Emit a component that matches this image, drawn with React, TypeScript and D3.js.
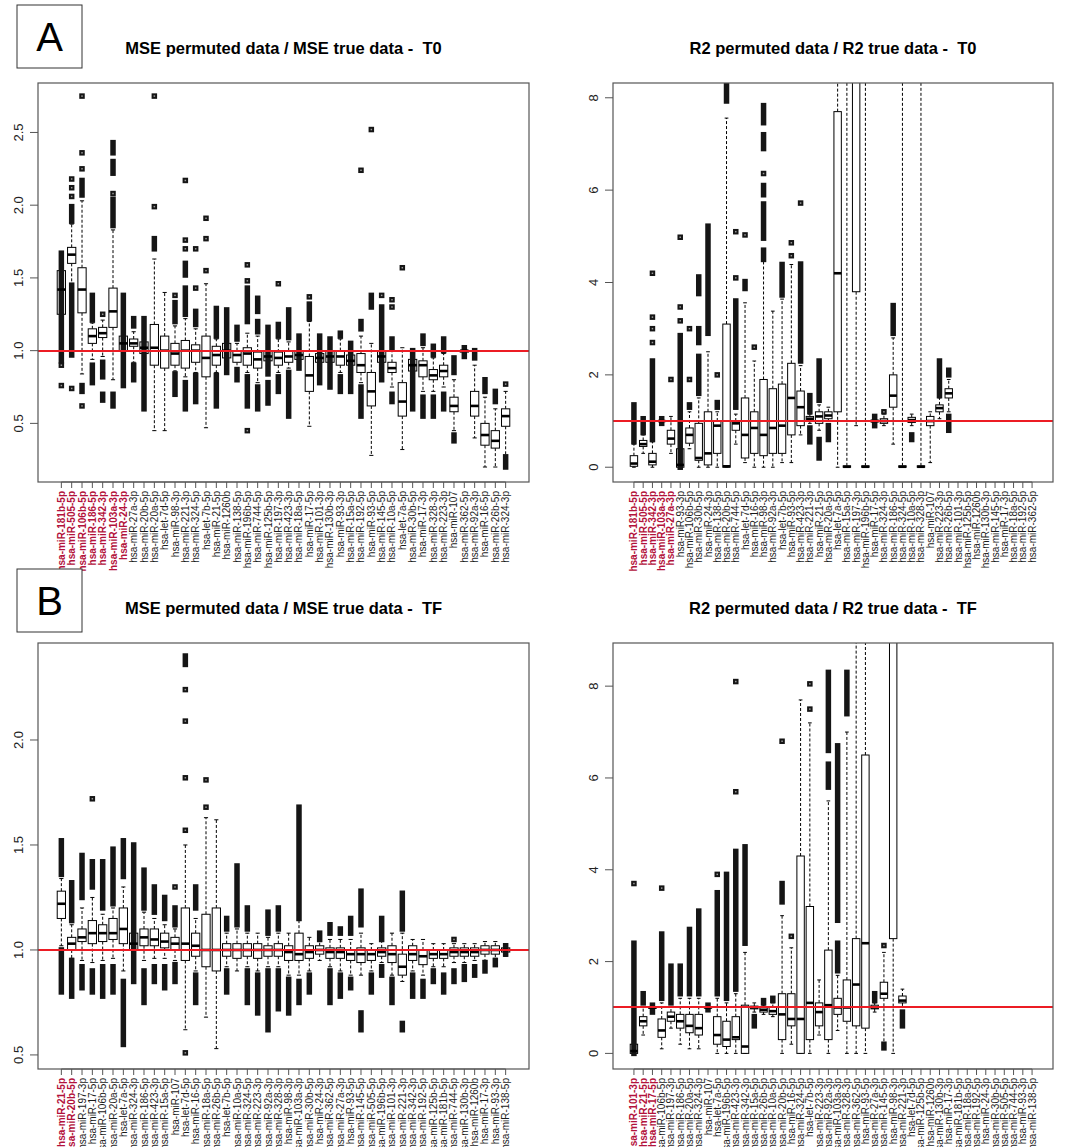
import React, { useEffect, useRef } from "react";
import * as d3 from "d3";

// ---- panel A, left: MSE permuted / MSE true, T0 ----
const aLeftLabels = ["hsa-miR-181b-5p","hsa-miR-505-5p","hsa-miR-106b-5p","hsa-miR-186-5p","hsa-miR-342-3p","hsa-miR-103a-3p","hsa-miR-24-3p","hsa-miR-27a-3p","hsa-miR-20b-5p","hsa-miR-20a-5p","hsa-let-7d-5p","hsa-miR-98-3p","hsa-miR-221-3p","hsa-miR-324-5p","hsa-let-7b-5p","hsa-miR-21-5p","hsa-miR-1260b","hsa-miR-138-5p","hsa-miR-196b-5p","hsa-miR-744-5p","hsa-miR-125b-5p","hsa-miR-197-3p","hsa-miR-423-3p","hsa-miR-18a-5p","hsa-miR-17-5p","hsa-miR-101-3p","hsa-miR-130b-3p","hsa-miR-93-3p","hsa-miR-15a-5p","hsa-miR-192-5p","hsa-miR-93-5p","hsa-miR-145-5p","hsa-miR-10a-5p","hsa-let-7a-5p","hsa-miR-30b-5p","hsa-miR-17-3p","hsa-miR-328-3p","hsa-miR-223-3p","hsa-miR-107","hsa-miR-362-5p","hsa-miR-92a-3p","hsa-miR-16-5p","hsa-miR-26b-5p","hsa-miR-324-3p"];
// [lower whisker, q1, median, q3, upper whisker]
const aLeftStats = [
  [0.93,1.25,1.42,1.55,1.67],[1.46,1.6,1.66,1.71,1.87],[0.84,1.26,1.42,1.57,2.03],[0.94,1.05,1.1,1.15,1.19],
  [0.96,1.09,1.12,1.16,1.21],[0.8,1.16,1.27,1.43,1.83],[0.9,1.0,1.05,1.1,1.2],[0.92,1.03,1.05,1.08,1.13],
  [0.9,0.98,1.02,1.06,1.12],[0.45,0.9,1.02,1.18,1.63],[0.45,0.88,1.0,1.1,1.4],[0.86,0.9,0.98,1.05,1.17],
  [0.82,0.88,1.0,1.07,1.22],[0.85,0.92,1.0,1.04,1.15],[0.47,0.82,0.95,1.1,1.46],[0.85,0.9,0.97,1.03,1.08],
  [0.9,0.95,1.0,1.05,1.1],[0.88,0.92,0.97,1.0,1.05],[0.85,0.9,0.98,1.02,1.12],[0.78,0.88,0.94,0.99,1.1],
  [0.9,0.93,0.96,1.0,1.05],[0.85,0.9,0.95,0.99,1.08],[0.88,0.92,0.96,1.0,1.06],[0.9,0.94,0.97,1.0,1.05],
  [0.48,0.72,0.83,0.96,1.2],[0.88,0.92,0.95,0.98,1.03],[0.88,0.92,0.96,1.0,1.04],[0.85,0.9,0.96,1.0,1.08],
  [0.85,0.9,0.93,0.97,1.02],[0.78,0.85,0.9,0.98,1.1],[0.28,0.62,0.72,0.85,1.05],[0.88,0.92,0.96,1.0,1.05],
  [0.75,0.85,0.88,0.92,1.0],[0.32,0.55,0.65,0.78,1.02],[0.82,0.86,0.9,0.94,0.98],[0.72,0.82,0.9,0.93,1.02],
  [0.72,0.8,0.83,0.87,0.95],[0.75,0.82,0.86,0.9,0.98],[0.45,0.58,0.62,0.68,0.8],[0.98,0.99,1.0,1.0,1.01],
  [0.4,0.55,0.62,0.72,0.9],[0.2,0.35,0.42,0.5,0.68],[0.2,0.33,0.38,0.45,0.6],[0.28,0.48,0.55,0.6,0.72]
];
// outliers: [from, to] runs of points (from == to for a single point)
const aLeftOut = [
  [[0.93,1.67],[0.9,0.9],[0.76,0.76]],[[0.97,1.45],[1.89,1.99],[2.06,2.06],[2.12,2.12],[2.18,2.18],[0.74,0.74]],
  [[2.07,2.17],[2.25,2.25],[2.36,2.36],[2.75,2.75],[0.72,0.76],[0.62,0.62]],[[1.21,1.38],[0.78,0.9]],
  [[1.25,1.25],[0.82,0.92],[0.66,0.7]],[[1.86,2.04],[2.08,2.08],[2.22,2.3],[2.36,2.43],[0.62,0.7]],
  [[0.76,1.38]],[[1.17,1.22],[0.8,0.9]],[[0.6,1.22]],[[1.7,1.77],[1.99,1.99],[2.75,2.75]],[],
  [[1.2,1.33],[1.38,1.38],[0.7,0.84]],[[1.25,1.43],[1.52,1.6],[1.7,1.7],[1.76,1.76],[2.17,2.17],[0.6,0.78]],
  [[1.18,1.27],[1.43,1.43],[1.7,1.7],[0.65,0.83]],[[1.55,1.55],[1.77,1.77],[1.91,1.91]],[[1.1,1.29],[0.62,0.83]],
  [[0.85,1.28]],[[1.08,1.16],[0.8,0.87]],[[1.2,1.43],[1.48,1.48],[1.59,1.59],[0.62,0.82],[0.45,0.45]],
  [[1.13,1.2],[1.27,1.36],[0.6,0.75]],[[0.84,1.16],[0.64,0.78]],[[1.1,1.18],[1.46,1.46],[0.72,0.82]],
  [[1.09,1.28],[0.55,0.85]],[[0.88,1.1]],[[1.22,1.32],[1.37,1.37]],[[0.78,1.1]],[[0.75,1.08]],
  [[1.1,1.12],[0.72,0.82]],[[0.72,1.05]],[[2.24,2.24],[1.15,1.2],[0.55,0.75]],[[1.3,1.38],[2.52,2.52]],
  [[0.8,1.3],[1.38,1.38]],[[1.02,1.08],[1.3,1.3],[1.35,1.35],[0.65,0.7]],[[1.57,1.57]],[[0.6,1.0]],
  [[1.05,1.1],[0.55,0.68]],[[0.97,1.03],[0.55,0.68]],[[1.0,1.08],[0.6,0.7]],[[0.85,0.95],[0.38,0.42]],
  [[0.96,1.02]],[[0.95,1.0]],[[0.72,0.8]],[[0.65,0.72]],[[0.2,0.27],[0.77,0.77]]
];

// ---- panel A, right: R2 permuted / R2 true, T0 ----
const aRightLabels = ["hsa-miR-181b-5p","hsa-miR-505-5p","hsa-miR-342-3p","hsa-miR-103a-3p","hsa-miR-27a-3p","hsa-miR-93-3p","hsa-miR-106b-5p","hsa-miR-30b-5p","hsa-miR-24-3p","hsa-miR-138-5p","hsa-miR-20b-5p","hsa-miR-744-5p","hsa-let-7d-5p","hsa-miR-16-5p","hsa-miR-98-3p","hsa-miR-92a-3p","hsa-let-7b-5p","hsa-miR-93-5p","hsa-miR-423-3p","hsa-miR-221-3p","hsa-miR-21-5p","hsa-miR-20a-5p","hsa-let-7a-5p","hsa-miR-15a-5p","hsa-miR-197-3p","hsa-miR-196b-5p","hsa-miR-17-5p","hsa-miR-324-3p","hsa-miR-186-5p","hsa-miR-324-5p","hsa-miR-10a-5p","hsa-miR-328-3p","hsa-miR-107","hsa-miR-223-3p","hsa-miR-26b-5p","hsa-miR-101-3p","hsa-miR-125b-5p","hsa-miR-1260b","hsa-miR-130b-3p","hsa-miR-145-5p","hsa-miR-17-3p","hsa-miR-18a-5p","hsa-miR-192-5p","hsa-miR-362-5p"];
const aRightStats = [
  [0,0.02,0.08,0.25,0.5],[0.3,0.45,0.5,0.58,0.7],[0,0.05,0.12,0.3,0.55],[0.97,0.99,1.0,1.01,1.03],
  [0.3,0.5,0.62,0.8,1.1],[0,0,0.05,0.4,1.0],[0.4,0.52,0.7,0.85,1.2],[0,0.15,0.2,0.95,1.5],
  [0,0.05,0.3,1.2,2.5],[0,0.3,0.9,1.0,1.2],[0,0,0.02,3.1,7.56],[0.5,0.8,0.95,1.0,1.15],
  [0.1,0.2,0.7,1.5,3.56],[0,0.3,0.85,1.2,2.3],[0,0.25,0.7,1.9,4.47],[0,0.3,0.85,1.7,3.38],
  [0.1,0.3,0.9,1.8,3.64],[0.1,0.7,1.5,2.25,4.39],[0.7,0.9,1.3,1.65,2.2],[0.95,1.0,1.05,1.1,1.15],
  [0.8,0.95,1.1,1.2,1.35],[1.0,1.05,1.12,1.2,1.3],[0,1.2,4.2,7.7,8.6],[0,0,0.01,0.03,8.6],
  [0.9,3.8,8.6,9,9],[0,0,0.01,0.03,8.6],[0.95,0.98,1.0,1.02,1.05],[0.9,0.95,1.0,1.05,1.15],
  [0.5,1.3,1.55,2.0,2.8],[0,0,0.01,0.03,8.6],[0.9,0.97,1.02,1.08,1.15],[0,0,0.01,0.03,8.6],
  [0.1,0.9,1.0,1.1,1.2],[1.05,1.2,1.28,1.35,1.5],[1.2,1.5,1.6,1.7,1.9],
  null,null,null,null,null,null,null,null,null
];
const aRightOut = [
  [[0.55,1.35]],[[0.75,1.05]],[[0.6,2.3],[2.7,2.7],[3.0,3.0],[3.25,3.25],[4.2,4.2]],[[0.95,1.05]],
  [[1.9,1.9]],[[0,2.85],[3.17,3.17],[3.47,3.47],[4.98,4.98]],[[1.3,1.35],[1.9,1.9],[3.0,3.0]],
  [[1.6,2.4],[2.7,3.0],[3.76,4.12]],[[2.9,5.22]],[[1.3,1.4],[2.0,2.0]],[[7.93,8.33]],
  [[1.3,3.6],[4.1,4.1],[5.1,5.1]],[[3.87,4.02],[5.03,5.03]],[[2.6,2.6]],
  [[4.5,4.7],[4.96,5.7],[5.9,6.1],[6.36,6.36],[6.9,7.2],[7.46,7.83]],[],[[3.73,4.39]],
  [[4.58,4.58],[4.86,4.86]],[[2.3,4.4],[5.72,5.72]],[[1.2,1.55],[0.55,0.85]],[[1.45,2.3],[0.2,0.6]],
  [[0.6,0.9]],[],[],[],[],[[0.9,1.1]],[[1.2,1.2]],[[2.9,3.5]],[],[[0.6,0.7]],[],[],
  [[1.55,2.3]],[[2.0,2.1],[0.8,1.1]],[],[],[],[],[],[],[],[],[]
];

// ---- panel B, left: MSE permuted / MSE true, TF ----
const bLeftLabels = ["hsa-miR-21-5p","hsa-miR-20b-5p","hsa-miR-197-3p","hsa-miR-17-5p","hsa-miR-106b-5p","hsa-miR-20a-5p","hsa-let-7a-5p","hsa-miR-324-3p","hsa-miR-186-5p","hsa-miR-423-3p","hsa-miR-15a-5p","hsa-miR-107","hsa-let-7d-5p","hsa-miR-16-5p","hsa-miR-18a-5p","hsa-miR-26b-5p","hsa-let-7b-5p","hsa-miR-10a-5p","hsa-miR-324-5p","hsa-miR-223-3p","hsa-miR-92a-3p","hsa-miR-328-3p","hsa-miR-98-3p","hsa-miR-103a-3p","hsa-miR-30b-5p","hsa-miR-24-3p","hsa-miR-362-5p","hsa-miR-27a-3p","hsa-miR-93-5p","hsa-miR-145-5p","hsa-miR-505-5p","hsa-miR-196b-5p","hsa-miR-101-3p","hsa-miR-221-3p","hsa-miR-342-3p","hsa-miR-192-5p","hsa-miR-125b-5p","hsa-miR-181b-5p","hsa-miR-744-5p","hsa-miR-130b-3p","hsa-miR-1260b","hsa-miR-17-3p","hsa-miR-93-3p","hsa-miR-138-5p"];
const bLeftStats = [
  [1.02,1.15,1.22,1.28,1.34],[0.96,1.0,1.03,1.06,1.12],[0.95,1.04,1.06,1.1,1.2],[0.94,1.03,1.08,1.14,1.25],
  [0.95,1.04,1.08,1.12,1.17],[0.96,1.05,1.08,1.15,1.2],[0.9,1.03,1.1,1.2,1.3],[0.95,1.0,1.03,1.08,1.12],
  [0.95,1.02,1.06,1.1,1.18],[0.96,1.02,1.05,1.1,1.15],[0.96,1.01,1.04,1.08,1.12],[0.95,1.0,1.03,1.06,1.1],
  [0.62,0.95,1.03,1.2,1.5],[0.9,0.97,1.02,1.08,1.15],[0.68,0.92,1.0,1.17,1.63],[0.53,0.9,1.0,1.2,1.62],
  [0.92,0.97,1.0,1.03,1.08],[0.9,0.96,1.0,1.03,1.1],[0.92,0.97,1.0,1.03,1.08],[0.9,0.96,1.0,1.03,1.08],
  [0.92,0.97,1.0,1.02,1.06],[0.92,0.97,1.0,1.03,1.08],[0.88,0.95,0.99,1.02,1.08],[0.88,0.95,0.98,1.08,1.14],
  [0.9,0.96,0.99,1.02,1.06],[0.95,0.98,1.0,1.02,1.04],[0.92,0.96,0.99,1.01,1.05],[0.9,0.96,0.99,1.01,1.05],
  [0.88,0.95,0.98,1.0,1.05],[0.88,0.94,0.98,1.01,1.08],[0.9,0.95,0.98,1.0,1.03],[0.94,0.97,0.99,1.01,1.04],
  [0.88,0.94,0.98,1.02,1.08],[0.85,0.88,0.92,0.98,1.08],[0.9,0.95,0.98,1.02,1.05],[0.88,0.93,0.97,1.0,1.05],
  [0.92,0.96,0.98,1.0,1.03],[0.92,0.96,0.98,1.0,1.03],[0.94,0.97,0.99,1.01,1.03],[0.94,0.97,0.99,1.01,1.03],
  [0.95,0.97,0.99,1.01,1.03],[0.95,0.98,1.0,1.02,1.04],[0.96,0.98,1.0,1.02,1.04],[0.97,0.99,1.0,1.01,1.02]
];
const bLeftOut = [
  [[1.36,1.52],[0.8,1.0]],[[0.78,0.95],[1.14,1.32]],[[1.25,1.45],[0.82,0.92]],[[1.3,1.42],[1.72,1.72],[0.8,0.9]],
  [[1.2,1.42],[0.78,0.92]],[[1.22,1.48],[0.8,0.92]],[[1.35,1.52],[0.55,0.85]],[[0.85,1.5]],
  [[1.2,1.38],[0.75,0.9]],[[1.18,1.3],[0.85,0.92]],[[1.15,1.25],[0.82,0.92]],[[1.12,1.2],[0.85,0.93],[1.3,1.3]],
  [[1.57,1.57],[1.82,1.82],[2.09,2.09],[2.24,2.24],[2.36,2.4],[0.51,0.51]],[[1.2,1.3],[0.75,0.88]],[[1.68,1.68],[1.81,1.81]],[],
  [[0.8,0.9],[1.1,1.15]],[[1.12,1.4]],[[0.75,0.9],[1.1,1.2]],[[0.7,0.88]],
  [[0.62,0.9],[1.08,1.18]],[[0.72,0.9],[1.1,1.2]],[[0.7,0.86]],[[1.15,1.68],[0.75,0.85]],
  [[0.8,0.88]],[[1.05,1.08]],[[0.75,0.9],[1.08,1.12]],[[0.78,0.88],[1.08,1.1]],
  [[1.08,1.15],[0.82,0.86]],[[1.12,1.28],[0.62,0.7]],[[0.8,0.88]],[[1.05,1.15],[0.88,0.92]],
  [[0.75,0.86]],[[1.1,1.27],[0.62,0.65]],[[0.78,0.88]],[[0.78,0.85]],
  [[0.85,0.9]],[[0.8,0.88]],[[0.85,0.9],[1.05,1.05]],[[0.86,0.92]],
  [[0.88,0.92]],[[0.9,0.94]],[[0.93,0.95]],[[0.98,1.02]]
];

// ---- panel B, right: R2 permuted / R2 true, TF ----
const bRightLabels = ["hsa-miR-101-3p","hsa-miR-21-5p","hsa-miR-17-5p","hsa-miR-106b-5p","hsa-miR-197-3p","hsa-miR-186-5p","hsa-miR-20a-5p","hsa-miR-324-3p","hsa-miR-107","hsa-let-7a-5p","hsa-miR-196b-5p","hsa-miR-423-3p","hsa-miR-342-3p","hsa-miR-15a-5p","hsa-miR-26b-5p","hsa-miR-10a-5p","hsa-miR-20b-5p","hsa-miR-16-5p","hsa-miR-324-5p","hsa-let-7b-5p","hsa-miR-223-3p","hsa-miR-92a-3p","hsa-miR-103a-3p","hsa-miR-328-3p","hsa-miR-362-5p","hsa-miR-93-5p","hsa-miR-27a-3p","hsa-miR-145-5p","hsa-miR-98-3p","hsa-miR-221-3p","hsa-let-7d-5p","hsa-miR-125b-5p","hsa-miR-1260b","hsa-miR-130b-3p","hsa-miR-17-3p","hsa-miR-181b-5p","hsa-miR-18a-5p","hsa-miR-192-5p","hsa-miR-24-3p","hsa-miR-30b-5p","hsa-miR-505-5p","hsa-miR-744-5p","hsa-miR-93-3p","hsa-miR-138-5p"];
const bRightStats = [
  [0,0,0.05,0.2,0.4],[0.4,0.6,0.7,0.8,1.0],[0.95,0.98,1.0,1.02,1.05],[0.1,0.35,0.5,0.75,1.1],
  [0.55,0.7,0.8,0.9,1.0],[0.2,0.55,0.7,0.85,1.2],[0.1,0.45,0.6,0.85,1.2],[0.1,0.4,0.55,0.85,1.2],
  [0.97,0.99,1.0,1.01,1.03],[0,0.2,0.4,0.8,1.2],[0,0.15,0.3,0.7,1.1],[0,0.3,0.35,0.8,1.3],
  [0,0,0.15,1.05,2.2],[0.9,0.97,1.0,1.03,1.1],[0.85,0.9,0.95,1.0,1.05],[0.8,0.85,0.92,1.0,1.1],
  [0,0.3,0.85,1.3,3.0],[0.2,0.6,0.75,1.3,2.3],[0,0,0.75,4.3,7.7],[0,0.3,1.1,3.2,7.2],
  [0.4,0.6,0.9,1.1,1.6],[0,0.3,1.05,2.25,5.5],[0.5,0.85,1.0,1.2,1.7],[0,0.7,1.0,1.6,7.0],
  [0,0.6,1.5,2.5,9.2],[0,0.55,2.4,6.5,9.2],[0.9,0.97,1.0,1.05,1.1],[0.1,1.2,1.3,1.55,2.2],
  [0,2.5,9.3,9.5,9.5],[1.0,1.1,1.15,1.25,1.4],
  null,null,null,null,null,null,null,null,null,null,null,null,null,null
];
const bRightOut = [
  [[0,2.4],[3.7,3.7]],[[1.1,1.3]],[[0.9,1.05]],[[1.2,2.6],[3.6,3.6]],[[1.1,1.9]],[[1.3,1.9]],[[1.3,2.7]],
  [[1.3,3.1]],[[0.95,1.05]],[[1.3,3.5],[3.9,3.9]],[[1.2,3.9]],[[1.4,4.4],[5.7,5.7],[8.1,8.1]],
  [[2.4,4.5]],[[0.6,0.8]],[[1.1,1.15]],[[1.15,1.2]],[[3.3,3.7],[6.8,6.8]],[[2.55,2.55]],[],
  [[7.5,7.5],[8.05,8.05]],[],[[5.8,6.3],[6.6,8.3]],[[1.8,2.4],[2.9,6.7]],[[7.4,8.3]],[],[],
  [[1.15,1.3]],[[2.35,2.35],[0.12,0.2]],[],[[0.6,0.9]],
  [],[],[],[],[],[],[],[],[],[],[],[],[],[]
];

const mseTicks = [0.5, 1.0, 1.5, 2.0, 2.5];
const r2Ticks = [0, 2, 4, 6, 8];

const panels = [
  { id: "al", title: "MSE permuted data / MSE true data -\u00a0 T0", labels: aLeftLabels, red: 7, stats: aLeftStats, outs: aLeftOut,
    yDomain: [0.097, 2.84], ticks: mseTicks, fmt: d3.format(".1f"), left: 38, right: 529, top: 83, bottom: 482 },
  { id: "ar", title: "R2 permuted data / R2 true data -\u00a0 T0", labels: aRightLabels, red: 5, stats: aRightStats, outs: aRightOut,
    yDomain: [-0.32, 8.32], ticks: r2Ticks, fmt: d3.format("d"), left: 613, right: 1053, top: 83, bottom: 482 },
  { id: "bl", title: "MSE permuted data / MSE true data -\u00a0 TF", labels: bLeftLabels, red: 2, stats: bLeftStats, outs: bLeftOut,
    yDomain: [0.433, 2.462], ticks: mseTicks.slice(0, 4), fmt: d3.format(".1f"), left: 38, right: 529, top: 643, bottom: 1069 },
  { id: "br", title: "R2 permuted data / R2 true data -\u00a0 TF", labels: bRightLabels, red: 3, stats: bRightStats, outs: bRightOut,
    yDomain: [-0.34, 8.94], ticks: r2Ticks, fmt: d3.format("d"), left: 613, right: 1053, top: 643, bottom: 1069 },
];

const FONT = "'Liberation Sans', Arial, Helvetica, sans-serif";
const RED_LABEL = "#b3123c";
const REF_RED = "#ec1c24";

function drawPanel(svg, p) {
  const n = p.labels.length;
  const ext = 0.04 * n;
  const x = d3.scaleLinear().domain([0.5 - ext, n + 0.5 + ext]).range([p.left, p.right]);
  const y = d3.scaleLinear().domain(p.yDomain).range([p.bottom, p.top]);
  const bw = (x(2) - x(1)) * 0.8;
  const ps = 5.5;

  const g = svg.append("g");
  g.append("clipPath").attr("id", "clip-" + p.id)
    .append("rect").attr("x", p.left).attr("y", p.top)
    .attr("width", p.right - p.left).attr("height", p.bottom - p.top);

  // title
  g.append("text")
    .attr("x", (p.left + p.right) / 2).attr("y", p.top - 29)
    .attr("text-anchor", "middle")
    .style("font-family", FONT).style("font-size", "16.5px").style("font-weight", "bold")
    .text(p.title);

  const plot = g.append("g").attr("clip-path", "url(#clip-" + p.id + ")");

  p.stats.forEach((s, i) => {
    const cx = x(i + 1);
    if (s) {
      const [lo, q1, md, q3, hi] = s;
      // whiskers
      plot.append("line").attr("x1", cx).attr("x2", cx).attr("y1", y(q3)).attr("y2", y(hi))
        .attr("stroke", "#000").attr("stroke-dasharray", "3,2").attr("stroke-width", 1);
      plot.append("line").attr("x1", cx).attr("x2", cx).attr("y1", y(q1)).attr("y2", y(lo))
        .attr("stroke", "#000").attr("stroke-dasharray", "3,2").attr("stroke-width", 1);
      [lo, hi].forEach((v) => {
        plot.append("line").attr("x1", cx - bw / 4).attr("x2", cx + bw / 4).attr("y1", y(v)).attr("y2", y(v))
          .attr("stroke", "#000").attr("stroke-width", 1);
      });
      plot.append("rect").attr("x", cx - bw / 2).attr("width", bw)
        .attr("y", y(q3)).attr("height", Math.max(0.5, y(q1) - y(q3)))
        .attr("fill", "#fff").attr("stroke", "#000").attr("stroke-width", 1);
    }
    (p.outs[i] || []).forEach(([a, b]) => {
      const top = y(Math.max(a, b)) - ps / 2;
      const h = Math.abs(y(a) - y(b)) + ps;
      plot.append("rect").attr("x", cx - ps / 2).attr("y", top).attr("width", ps).attr("height", h)
        .attr("fill", "#151515");
      if (a === b) {
        plot.append("rect").attr("x", cx - 0.75).attr("y", y(a) - 0.75).attr("width", 1.5).attr("height", 1.5)
          .attr("fill", "#9a9a9a");
      }
    });
    if (s) {
      plot.append("line").attr("x1", cx - bw / 2).attr("x2", cx + bw / 2).attr("y1", y(s[2])).attr("y2", y(s[2]))
        .attr("stroke", "#000").attr("stroke-width", 2.6);
    }
  });

  // reference line at 1 (drawn as a thin filled band so it stays clearly red)
  g.append("rect").attr("x", p.left).attr("width", p.right - p.left)
    .attr("y", Math.round(y(1)) - 1).attr("height", 2)
    .attr("fill", REF_RED);

  // frame
  g.append("rect").attr("x", p.left).attr("y", p.top)
    .attr("width", p.right - p.left).attr("height", p.bottom - p.top)
    .attr("fill", "none").attr("stroke", "#555").attr("stroke-width", 1.2);

  // y axis
  p.ticks.forEach((t) => {
    const yy = y(t);
    g.append("line").attr("x1", p.left - 8).attr("x2", p.left).attr("y1", yy).attr("y2", yy)
      .attr("stroke", "#555").attr("stroke-width", 1);
    g.append("text").attr("transform", `translate(${p.left - 15},${yy}) rotate(-90)`)
      .attr("text-anchor", "middle")
      .style("font-family", FONT).style("font-size", "13px").attr("fill", "#222")
      .text(p.fmt(t));
  });

  // x axis
  g.append("line").attr("x1", x(1)).attr("x2", x(n)).attr("y1", p.bottom).attr("y2", p.bottom)
    .attr("stroke", "#555");
  p.labels.forEach((lab, i) => {
    const cx = x(i + 1);
    g.append("line").attr("x1", cx).attr("x2", cx).attr("y1", p.bottom).attr("y2", p.bottom + 6)
      .attr("stroke", "#555").attr("stroke-width", 1);
    const isRed = i < p.red;
    g.append("text").attr("transform", `translate(${cx + 3.5},${p.bottom + 9}) rotate(-90)`)
      .attr("text-anchor", "end")
      .style("font-family", FONT).style("font-size", "10px")
      .style("font-weight", isRed ? "bold" : "normal")
      .attr("fill", isRed ? RED_LABEL : "#1a1a1a")
      .text(lab);
  });
}

function letterBox(svg, letter, top) {
  svg.append("rect").attr("x", 17).attr("y", top).attr("width", 65).attr("height", 63)
    .attr("fill", "#fff").attr("stroke", "#333").attr("stroke-width", 1);
  svg.append("text").attr("x", 49.5).attr("y", top + 46).attr("text-anchor", "middle")
    .style("font-family", FONT).style("font-size", "40px").text(letter);
}

export default function App() {
  const ref = useRef(null);
  useEffect(() => {
    const svg = d3.select(ref.current);
    svg.selectAll("*").remove();
    svg.append("rect").attr("width", 1067).attr("height", 1147).attr("fill", "#fff");
    panels.forEach((p) => drawPanel(svg, p));
    letterBox(svg, "A", 5);
    letterBox(svg, "B", 569);
  }, []);
  return (
    <svg ref={ref} width={1067} height={1147}
      style={{ position: "absolute", left: 0, top: 0, display: "block" }} />
  );
}
